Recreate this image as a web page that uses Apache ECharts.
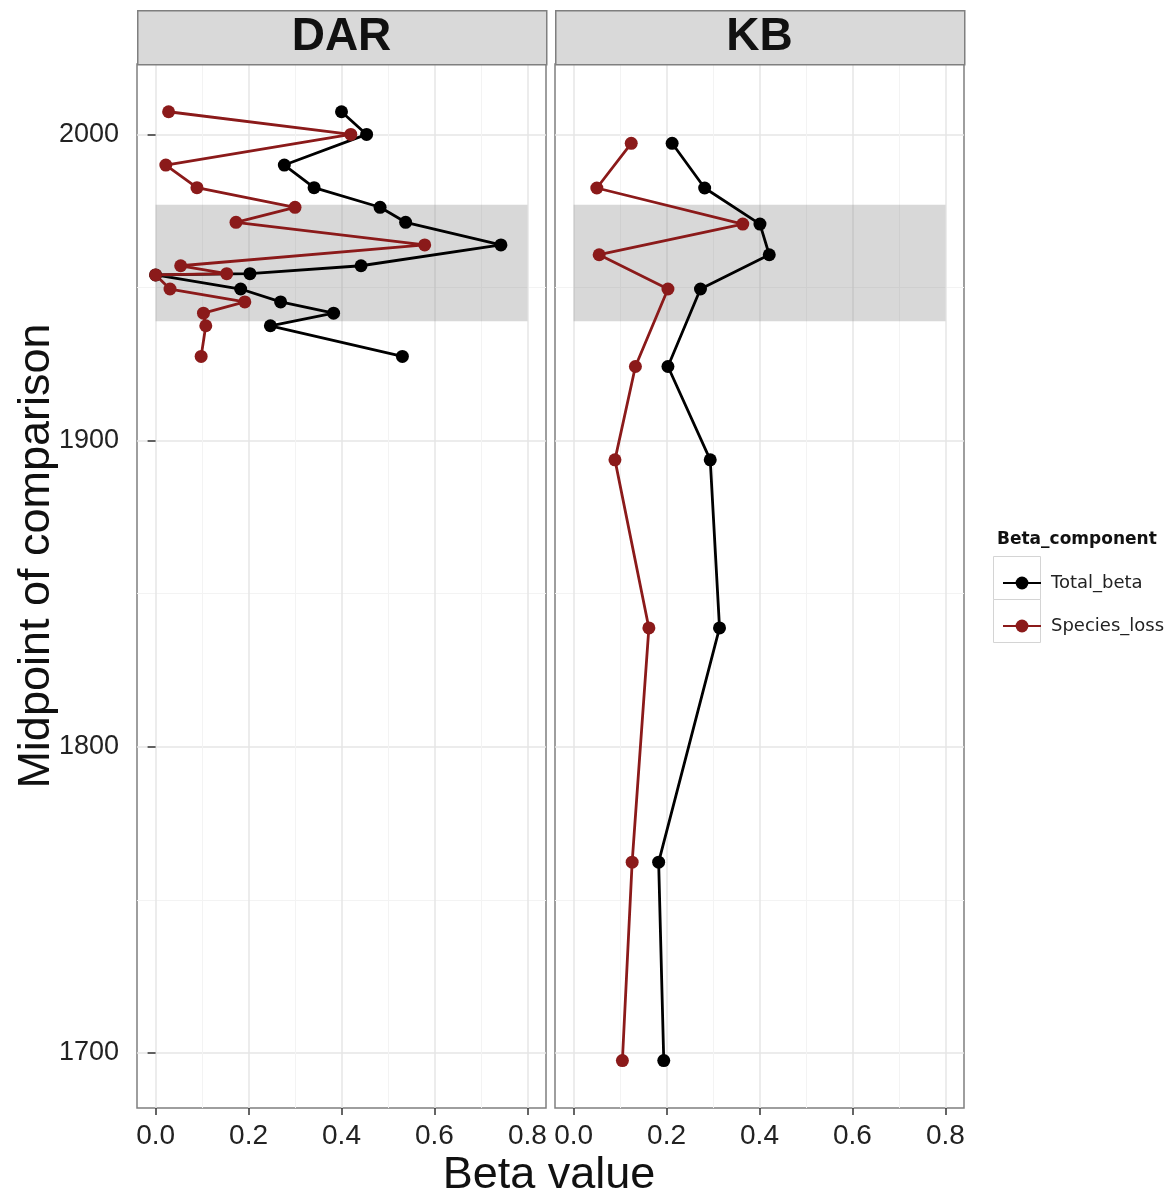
<!DOCTYPE html>
<html>
<head>
<meta charset="utf-8">
<script src="https://cdn.jsdelivr.net/npm/echarts@6/dist/echarts.min.js"></script>
<style>
  html, body { margin: 0; padding: 0; background: #fff; }
  #chart { width: 1164px; height: 1197px; }
</style>
</head>
<body>
<div id="chart"></div>
<script>
// DAR panel
const darYears = [2007.4, 2000.0, 1990.0, 1982.6, 1976.2, 1971.3, 1963.9, 1957.1, 1954.5, 1954.1, 1949.5, 1945.3, 1941.6, 1937.5, 1927.5]
const darTotal = [0.400, 0.454, 0.277, 0.341, 0.483, 0.538, 0.743, 0.442, 0.203, 0.000, 0.183, 0.269, 0.383, 0.247, 0.531]
const darLoss = [0.028, 0.420, 0.022, 0.089, 0.300, 0.173, 0.579, 0.054, 0.153, 0.000, 0.031, 0.192, 0.103, 0.108, 0.098]

// KB panel
const kbYears = [1997.1, 1982.5, 1970.7, 1960.7, 1949.5, 1924.2, 1893.7, 1838.8, 1762.3, 1697.5]
const kbTotal = [0.212, 0.282, 0.401, 0.421, 0.273, 0.203, 0.294, 0.314, 0.183, 0.194]
const kbLoss = [0.124, 0.050, 0.364, 0.055, 0.203, 0.133, 0.089, 0.162, 0.126, 0.105]

// shaded period
const bandYears = [1939, 1977]
const bandBeta = [0, 0.8]

// axes
const panels = ['DAR', 'KB']
const components = ['Total_beta', 'Species_loss']
const betaLimits = [-0.04, 0.84]
const yearLimits = [1682, 2023]
const betaTicks = [0, 0.2, 0.4, 0.6, 0.8]
const betaMinor = [0.1, 0.3, 0.5, 0.7]
const yearTicks = [1700, 1800, 1900, 2000]
const yearMinor = [1750, 1850, 1950]

const colors = { Total_beta: '#000000', Species_loss: '#8b1a1a' }
const panelLeft = [137, 555]
const panelTop = 64
const panelW = 409
const panelH = 1044
const stripTop = 10

const pairs = (xs, ys) => xs.map((x, i) => [x, ys[i]])

const grids = panelLeft.map((left) => ({
  left, top: panelTop, width: panelW, height: panelH,
  show: true, borderColor: '#7f7f7f', borderWidth: 1.5, backgroundColor: '#fff',
  containLabel: false, outerBoundsMode: 'none'
}))

const xAxes = []
const yAxes = []
panelLeft.forEach((_, g) => {
  // major
  xAxes.push({
    type: 'value', gridIndex: g, position: 'bottom', min: betaLimits[0], max: betaLimits[1],
    axisLine: { show: false },
    axisTick: { show: true, customValues: betaTicks, length: 7, lineStyle: { color: '#333', width: 1.5 } },
    axisLabel: { customValues: betaTicks, formatter: (v) => v.toFixed(1), color: '#222', fontSize: 28, margin: 14, fontFamily: 'Liberation Sans' },
    splitLine: { show: true, lineStyle: { color: '#e6e6e6', width: 1.5 } }
  })
  // minor
  xAxes.push({
    type: 'value', gridIndex: g, position: 'top', min: betaLimits[0], max: betaLimits[1],
    axisLine: { show: false },
    axisTick: { show: false, customValues: betaMinor },
    axisLabel: { show: false, customValues: betaMinor },
    splitLine: { show: true, lineStyle: { color: '#f3f3f3', width: 1 } }
  })
  yAxes.push({
    type: 'value', gridIndex: g, position: 'left', min: yearLimits[0], max: yearLimits[1],
    axisLine: { show: false },
    axisTick: { show: g === 0, customValues: yearTicks, length: 8, lineStyle: { color: '#333', width: 1.5 } },
    axisLabel: { show: g === 0, customValues: yearTicks, formatter: (v) => String(v), color: '#222', fontSize: 27, margin: 18, fontFamily: 'Liberation Sans' },
    splitLine: { show: true, lineStyle: { color: '#e6e6e6', width: 1.5 } }
  })
  yAxes.push({
    type: 'value', gridIndex: g, position: 'right', min: yearLimits[0], max: yearLimits[1],
    axisLine: { show: false },
    axisTick: { show: false, customValues: yearMinor },
    axisLabel: { show: false, customValues: yearMinor },
    splitLine: { show: true, lineStyle: { color: '#f3f3f3', width: 1 } }
  })
})

const lineSeries = (name, g, data) => ({
  name, type: 'line', xAxisIndex: g * 2, yAxisIndex: g * 2, data, z: 3,
  symbol: 'circle', symbolSize: 13, showSymbol: true,
  color: colors[name],
  lineStyle: { color: colors[name], width: 2.8 },
  itemStyle: { color: colors[name] },
  animation: false
})

const bandSeries = (g) => ({
  type: 'line', xAxisIndex: g * 2, yAxisIndex: g * 2, data: [], z: 1, silent: true,
  markArea: {
    silent: true,
    itemStyle: { color: 'rgba(127,127,127,0.3)' },
    data: [[{ xAxis: bandBeta[0], yAxis: bandYears[0] }, { xAxis: bandBeta[1], yAxis: bandYears[1] }]]
  }
})

const series = [
  bandSeries(0), bandSeries(1),
  lineSeries('Total_beta', 0, pairs(darTotal, darYears)),
  lineSeries('Species_loss', 0, pairs(darLoss, darYears)),
  lineSeries('Total_beta', 1, pairs(kbTotal, kbYears)),
  lineSeries('Species_loss', 1, pairs(kbLoss, kbYears))
]

const graphic = []
panelLeft.forEach((left, g) => {
  graphic.push({
    type: 'rect', left, top: stripTop, z: 10,
    shape: { width: panelW, height: panelTop - stripTop },
    style: { fill: '#d9d9d9', stroke: '#7f7f7f', lineWidth: 1.5 }
  })
  graphic.push({
    type: 'text', x: left + panelW / 2, y: 37, z: 11,
    style: { text: panels[g], font: 'bold 46px "Liberation Sans"', fill: '#111', align: 'center', verticalAlign: 'middle' }
  })
})
// axis titles
graphic.push({
  type: 'text', x: 37, y: 556, rotation: Math.PI / 2,
  style: { text: 'Midpoint of comparison', font: '45px "Liberation Sans"', fill: '#111', align: 'center', verticalAlign: 'middle' }
})
graphic.push({
  type: 'text', x: 549, y: 1176,
  style: { text: 'Beta value', font: '45px "Liberation Sans"', fill: '#111', align: 'center', verticalAlign: 'middle' }
})
// legend title and key boxes
graphic.push({
  type: 'text', x: 997, y: 540,
  style: { text: 'Beta_component', font: 'bold 17px "DejaVu Sans"', fill: '#111', align: 'left', verticalAlign: 'middle' }
})
;[556, 599].forEach((top) => {
  graphic.push({
    type: 'rect', left: 993, top, z: 0,
    shape: { width: 47, height: 43 },
    style: { fill: '#fff', stroke: '#d4d4d4', lineWidth: 1 }
  })
})

const chart = echarts.init(document.getElementById('chart'))
chart.setOption({
  animation: false,
  backgroundColor: '#fff',
  grid: grids,
  xAxis: xAxes,
  yAxis: yAxes,
  legend: {
    data: components,
    orient: 'vertical', left: 997, top: 569,
    itemWidth: 38, itemHeight: 16, itemGap: 25,
    textStyle: { fontFamily: 'DejaVu Sans', fontSize: 18, color: '#222', padding: [0, 0, 0, 5] },
    selectedMode: false
  },
  series,
  graphic
})
</script>
</body>
</html>
